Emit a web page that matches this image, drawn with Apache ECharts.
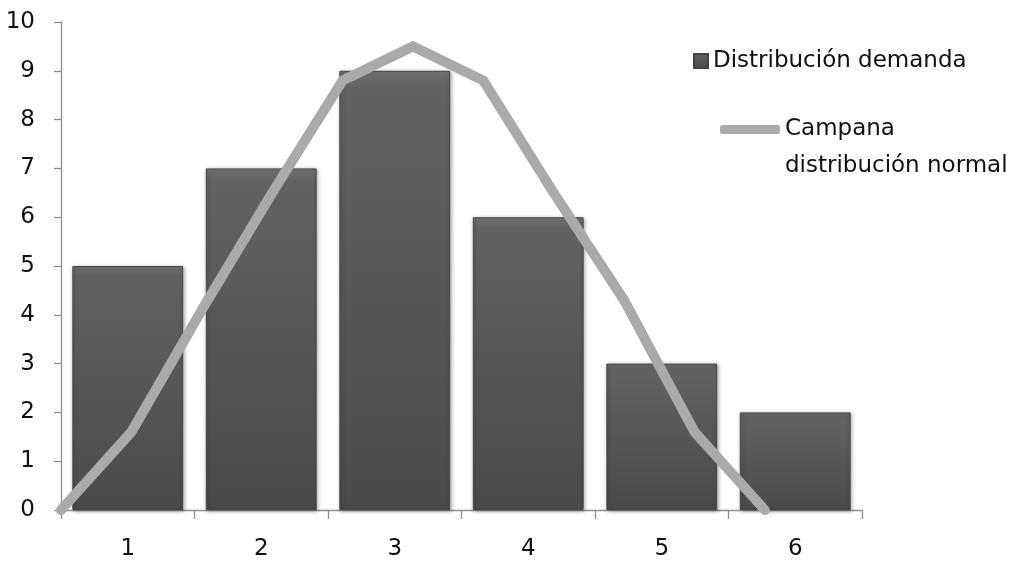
<!DOCTYPE html>
<html>
<head>
<meta charset="utf-8">
<script src="https://cdn.jsdelivr.net/npm/echarts@6/dist/echarts.min.js"></script>
<style>html,body{margin:0;padding:0;background:#fff}#c{width:1027px;height:561px}</style>
</head>
<body>
<div id="c"></div>
<script>
var categories = ['1', '2', '3', '4', '5', '6'];
var demanda = [5, 7, 9, 6, 3, 2];
var campanaIndex = [0, 1, 2, 3, 4, 5, 6, 7, 8, 9, 10];
var campana = [0, 1.6, 4.1, 6.5, 8.8, 9.5, 8.8, 6.5, 4.3, 1.6, 0];
var yTicks = [0, 1, 2, 3, 4, 5, 6, 7, 8, 9, 10];

var FONT = 'DejaVu Sans';
var FS = 23;
var chart = echarts.init(document.getElementById('c'), null, {renderer: 'canvas'});
chart.setOption({
  animation: false,
  backgroundColor: '#ffffff',
  textStyle: {fontFamily: FONT},
  grid: {left: 61, right: 165, top: 22, bottom: 49, containLabel: false},
  legend: [{
    data: ['Distribución demanda'],
    left: 688, top: 42, orient: 'vertical',
    icon: 'rect', itemWidth: 14, itemHeight: 14, itemGap: 6,
    textStyle: {fontFamily: FONT, fontSize: FS, color: '#111', lineHeight: 28}
  }, {
    data: ['Campana distribución normal'],
    left: 715, top: 69, orient: 'vertical',
    icon: 'roundRect', itemWidth: 60, itemHeight: 9, itemGap: 6,
    formatter: function () { return ' \nCampana\ndistribución normal'; },
    textStyle: {fontFamily: FONT, fontSize: FS, color: '#111', lineHeight: 37}
  }],
  xAxis: [{
    type: 'category', data: categories, boundaryGap: true,
    axisLine: {lineStyle: {color: '#8c8c8c', width: 1.3}},
    axisTick: {show: true, length: 9, lineStyle: {color: '#8c8c8c', width: 1.3}},
    axisLabel: {fontFamily: FONT, fontSize: FS, color: '#111', margin: 28},
    splitLine: {show: false}
  }, {
    type: 'value', min: 0, max: 11.38, show: false
  }],
  yAxis: {
    type: 'value', min: yTicks[0], max: yTicks[yTicks.length - 1], interval: 1,
    axisLine: {show: true, lineStyle: {color: '#8c8c8c', width: 1.3}},
    axisTick: {show: true, length: 7, lineStyle: {color: '#8c8c8c', width: 1.3}},
    axisLabel: {fontFamily: FONT, fontSize: FS, color: '#111', margin: 26},
    splitLine: {show: false}
  },
  series: [{
    name: 'Distribución demanda',
    type: 'bar', xAxisIndex: 0,
    data: demanda,
    barCategoryGap: '17%',
    itemStyle: {
      color: new echarts.graphic.LinearGradient(0, 0, 0, 1, [
        {offset: 0, color: '#7a7a7a'},
        {offset: 0.015, color: '#6a6a6a'},
        {offset: 0.04, color: '#626262'},
        {offset: 1, color: '#4a4a4a'}
      ]),
      borderColor: '#444',
      borderWidth: 1,
      shadowColor: 'rgba(0,0,0,0.35)',
      shadowBlur: 4,
      shadowOffsetX: 1,
      shadowOffsetY: 1
    }
  }, {
    name: 'Campana distribución normal',
    type: 'line', xAxisIndex: 1,
    data: campanaIndex.map(function (x, i) { return [x, campana[i]]; }),
    showSymbol: false, symbol: 'none',
    lineStyle: {color: '#aaaaaa', width: 10, cap: 'round', join: 'miter'},
    itemStyle: {color: '#aaaaaa'},
    z: 5
  }]
});
</script>
</body>
</html>
